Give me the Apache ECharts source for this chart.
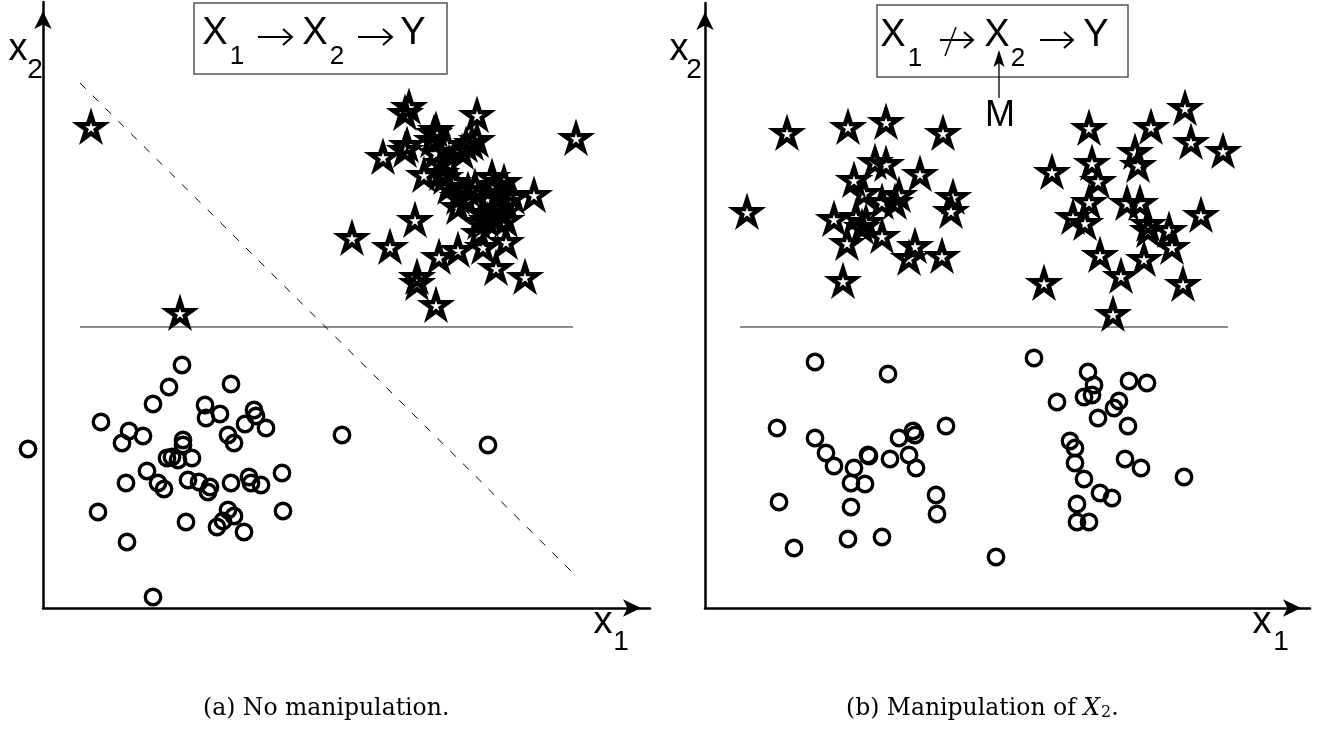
<!DOCTYPE html>
<html>
<head>
<meta charset="utf-8">
<script src="https://cdn.jsdelivr.net/npm/echarts@6/dist/echarts.min.js"></script>
<style>
html,body{margin:0;padding:0;background:#fff;}
#c{width:1326px;height:731px;}
</style>
</head>
<body>
<div id="c"></div>
<script>
// ---- Data (units: arbitrary x1 / x2 coordinates, origin at the axes' corner) ----
// Panel (a): no manipulation
const starsA = [
  [48,481],[137,295],[533,470],[366,501],[362,495],[434,493],[393,478],[391,475],
  [364,463],[362,458],[340,451],[404,463],[419,456],[429,465],[434,468],[393,455],
  [406,445],[381,433],[398,435],[410,426],[425,418],[449,431],[461,426],[451,423],
  [491,413],[415,411],[415,401],[463,406],[457,400],[440,395],[463,388],[436,386],
  [451,391],[372,388],[309,370],[347,361],[396,351],[415,358],[440,361],[463,366],
  [453,340],[482,331],[374,331],[374,325],[393,303],[470,411],[423,463],[398,445],
  [444,408],[402,431],[432,421],[455,415],[444,388],[423,408],[389,468],[459,395],
  [406,421],[436,375]
];
const circlesA = [
  [-15,159],[139,243],[126,221],[188,224],[110,204],[58,186],[162,203],[163,190],
  [177,194],[211,198],[213,192],[202,184],[223,180],[86,177],[100,172],[79,165],
  [185,173],[191,165],[299,173],[445,163],[140,168],[140,163],[129,151],[135,148],
  [149,150],[124,150],[104,137],[83,125],[115,125],[121,119],[145,128],[156,126],
  [167,121],[165,116],[188,125],[206,131],[208,125],[218,123],[239,135],[55,96],
  [240,97],[143,86],[185,98],[191,92],[180,87],[174,81],[201,76],[84,66],[110,11]
];
const thresholdA = [[37,281],[530,281]];
const diagonalA = [[37,525],[529,36]];

// Panel (b): manipulation of X2
const starsB = [
  [82,475],[143,481],[181,486],[238,475],[42,396],[170,446],[181,444],[149,428],
  [215,434],[159,415],[177,406],[194,413],[190,406],[248,411],[246,397],[129,389],
  [151,391],[161,386],[157,381],[142,365],[177,372],[210,362],[204,350],[237,352],
  [138,327],[384,480],[446,481],[480,500],[486,466],[518,457],[430,456],[433,443],
  [347,436],[387,445],[393,427],[384,406],[422,405],[435,405],[368,391],[380,385],
  [443,384],[443,378],[464,378],[467,361],[496,393],[395,353],[439,349],[416,332],
  [339,325],[478,324],[408,294]
];
const circlesB = [
  [110,246],[183,234],[72,180],[110,170],[121,155],[129,142],[149,140],[146,125],
  [160,124],[163,153],[164,152],[185,149],[194,170],[208,177],[210,173],[204,153],
  [211,140],[241,182],[231,113],[232,94],[74,106],[146,101],[143,69],[177,71],
  [89,60],[291,51],[329,250],[383,236],[389,223],[379,211],[387,213],[352,206],
  [414,207],[409,200],[393,190],[424,227],[442,225],[423,182],[365,167],[370,160],
  [370,145],[379,129],[420,149],[436,140],[479,131],[395,115],[407,110],[372,104],
  [372,86],[384,86]
];
const thresholdB = [[35,281],[523,281]];

const captionA = '(a) No manipulation.';
const captionB = '(b) Manipulation of ';

// ---- Styles ----
const STAR = 'path://M50,0 L61.2,34.55 L97.55,34.55 L68.15,55.9 L79.4,90.45 L50,69.1 L20.6,90.45 L31.85,55.9 L2.45,34.55 L38.8,34.55 Z';
const SANS = '"Liberation Sans", Arial, sans-serif';
const SERIF = '"DejaVu Serif", serif';

function axisPair(gi, xmax, ymax) {
  const line = {show: true, onZero: false, symbol: ['none', 'arrow'], symbolSize: [13, 18], symbolOffset: [0, -9],
                lineStyle: {color: '#000', width: 2.5}};
  return {
    x: {gridIndex: gi, type: 'value', min: 0, max: xmax, axisLine: line, axisTick: {show: false},
        axisLabel: {show: false}, splitLine: {show: false}},
    y: {gridIndex: gi, type: 'value', min: 0, max: ymax, axisLine: line, axisTick: {show: false},
        axisLabel: {show: false}, splitLine: {show: false}}
  };
}
const a0 = axisPair(0, 607, 606);
const a1 = axisPair(1, 605, 605);

function starSeries(data, i) {
  return {type: 'scatter', xAxisIndex: i, yAxisIndex: i, data: data, symbol: STAR, symbolSize: [25, 24],
          clip: false, silent: true, z: 5,
          itemStyle: {color: 'rgba(0,0,0,0)', borderColor: '#000', borderWidth: 4.5, borderJoin: 'miter', opacity: 1}};
}
function circleSeries(data, i) {
  return {type: 'scatter', xAxisIndex: i, yAxisIndex: i, data: data, symbol: 'circle', symbolSize: 15.5,
          clip: false, silent: true, z: 5,
          itemStyle: {color: 'rgba(0,0,0,0)', borderColor: '#000', borderWidth: 3.3, opacity: 1}};
}
function lineSeries(data, i, type, color, width) {
  return {type: 'line', xAxisIndex: i, yAxisIndex: i, data: data, symbol: 'none', silent: true, z: 3,
          lineStyle: {color: color, width: width, type: type, opacity: 1}};
}

function txt(s, x, y, size, extra) {
  return Object.assign({type: 'text', x: x, y: y, silent: true, z: 10,
    style: {text: s, font: size + 'px ' + SANS, fill: '#000',
            align: 'center', verticalAlign: 'middle', textAlign: 'center', textVerticalAlign: 'middle'}}, extra || {});
}
// long thin right arrow (like \rightarrow)
function rarrow(x1, x2, y) {
  return [
    {type: 'line', shape: {x1: x1, y1: y, x2: x2 - 1, y2: y}, style: {stroke: '#000', lineWidth: 2}, z: 11, silent: true},
    {type: 'polyline', shape: {points: [[x2 - 9, y - 8], [x2, y], [x2 - 9, y + 8]]},
     style: {stroke: '#000', lineWidth: 2, fill: null}, z: 11, silent: true}
  ];
}

const graphics = [
  // box (a)
  {type: 'rect', shape: {x: 194, y: 3, width: 253, height: 71}, style: {fill: '#fff', stroke: '#555', lineWidth: 1.5}, z: 9, silent: true},
  txt('X', 215, 34, 38), txt('1', 237, 57, 26),
  ...rarrow(258, 292, 37),
  txt('X', 315, 34, 38), txt('2', 337, 57, 26),
  ...rarrow(358, 392, 37),
  txt('Y', 413, 34, 38),
  // box (b)
  {type: 'rect', shape: {x: 877, y: 5, width: 251, height: 72}, style: {fill: '#fff', stroke: '#555', lineWidth: 1.5}, z: 9, silent: true},
  txt('X', 893, 36, 38), txt('1', 915, 59, 26),
  ...rarrow(940, 973, 40),
  {type: 'line', shape: {x1: 945, y1: 56, x2: 956, y2: 27}, style: {stroke: '#000', lineWidth: 1.5}, z: 11, silent: true},
  txt('X', 997, 36, 38), txt('2', 1018, 59, 26),
  ...rarrow(1040, 1073, 40),
  txt('Y', 1096, 36, 38),
  // M arrow
  {type: 'line', shape: {x1: 999, y1: 98, x2: 999, y2: 60}, style: {stroke: '#000', lineWidth: 1.3}, z: 11, silent: true},
  {type: 'polygon', shape: {points: [[999, 50], [1004.5, 67], [999, 63], [993.5, 67]]}, style: {fill: '#000'}, z: 11, silent: true},
  txt('M', 1000, 116, 36),
  // axis labels
  txt('x', 18, 50, 38), txt('2', 35, 70, 28),
  txt('x', 679, 50, 38), txt('2', 694, 70, 28),
  txt('x', 603, 623, 38), txt('1', 621, 642, 28),
  txt('x', 1262, 623, 38), txt('1', 1281, 642, 28),
  // captions
  {type: 'text', x: 203, y: 709, silent: true,
   style: {text: captionA, font: '23.5px ' + SERIF, fill: '#000', align: 'left', verticalAlign: 'middle',
           textAlign: 'left', textVerticalAlign: 'middle'}},
  {type: 'text', x: 846, y: 709, silent: true,
   style: {text: captionB + '{i|X}{s|2}.', font: '23.5px ' + SERIF, fill: '#000', align: 'left', verticalAlign: 'middle',
           textAlign: 'left', textVerticalAlign: 'middle',
           rich: {i: {font: 'italic 23.5px ' + SERIF, fill: '#000'},
                  s: {font: '16px ' + SERIF, fill: '#000', verticalAlign: 'bottom', lineHeight: 14, padding: [0, 0, 0, 1]}}}}
];

const chart = echarts.init(document.getElementById('c'), null, {renderer: 'canvas'});
chart.setOption({
  animation: false,
  backgroundColor: '#fff',
  grid: [
    {left: 43, top: 2, width: 607, height: 606},
    {left: 705, top: 3, width: 605, height: 605}
  ],
  xAxis: [a0.x, a1.x],
  yAxis: [a0.y, a1.y],
  series: [
    lineSeries(thresholdA, 0, 'solid', '#666', 1.3),
    lineSeries(diagonalA, 0, [8, 10], '#000', 1),
    starSeries(starsA, 0),
    circleSeries(circlesA, 0),
    lineSeries(thresholdB, 1, 'solid', '#666', 1.3),
    starSeries(starsB, 1),
    circleSeries(circlesB, 1)
  ],
  graphic: graphics
});
</script>
</body>
</html>
